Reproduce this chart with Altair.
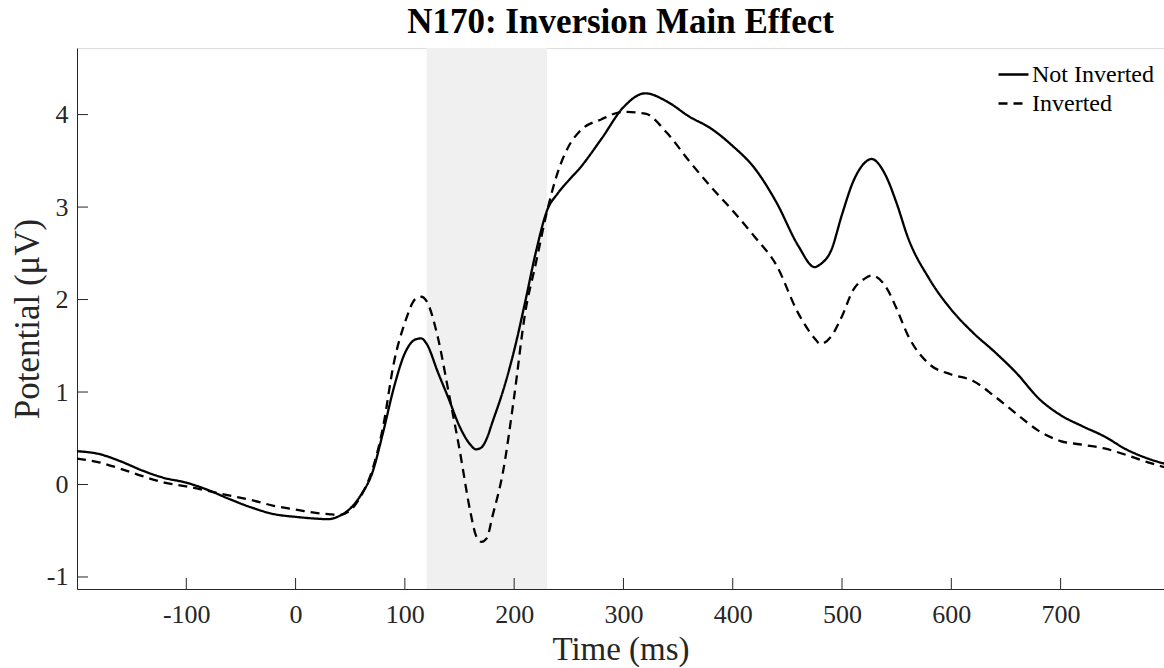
import altair as alt
import pandas as pd

times = [-200, -180, -160, -140, -120, -100, -80, -60, -40, -20, 0, 20, 30, 40, 50, 60, 70, 80, 90,
         100, 110, 115, 120, 130, 140, 150, 160, 165, 170, 175, 180, 190, 200, 210, 220, 230, 240,
         250, 260, 280, 300, 320, 340, 360, 380, 400, 420, 440, 460, 475, 480, 490, 500, 510, 520,
         527, 540, 550, 560, 580, 600, 620, 640, 660, 680, 700, 720, 740, 760, 780, 800]

not_inverted = [0.36, 0.33, 0.25, 0.15, 0.07, 0.02, -0.06, -0.16, -0.25, -0.32, -0.35, -0.37, -0.375,
                -0.34, -0.26, -0.11, 0.12, 0.56, 1.05, 1.42, 1.57, 1.58, 1.52, 1.22, 0.93, 0.63, 0.43,
                0.38, 0.40, 0.50, 0.67, 1.02, 1.45, 1.97, 2.52, 2.96, 3.15, 3.29, 3.42, 3.74, 4.08,
                4.23, 4.14, 3.98, 3.85, 3.66, 3.42, 3.05, 2.58, 2.35, 2.38, 2.53, 2.92, 3.27, 3.47,
                3.52, 3.34, 3.04, 2.68, 2.22, 1.89, 1.64, 1.43, 1.20, 0.93, 0.75, 0.63, 0.52, 0.38,
                0.28, 0.21]

inverted = [0.28, 0.24, 0.17, 0.09, 0.02, -0.02, -0.07, -0.12, -0.17, -0.23, -0.27, -0.31, -0.32,
            -0.33, -0.28, -0.12, 0.15, 0.62, 1.32, 1.75, 2.01, 2.03, 1.98, 1.60, 1.00, 0.38, -0.30,
            -0.55, -0.62, -0.58, -0.35, 0.15, 0.95, 1.85, 2.40, 2.95, 3.38, 3.66, 3.82, 3.95, 4.03,
            4.01, 3.80, 3.50, 3.22, 2.96, 2.68, 2.37, 1.85, 1.58, 1.52, 1.60, 1.82, 2.10, 2.22,
            2.26, 2.14, 1.90, 1.62, 1.30, 1.19, 1.12, 0.95, 0.76, 0.58, 0.47, 0.43, 0.39, 0.32,
            0.24, 0.17]

conditions = ["Not Inverted", "Inverted"]
window_start = [120]
window_end = [230]
x_ticks = [-100, 0, 100, 200, 300, 400, 500, 600, 700]
y_ticks = [-1, 0, 1, 2, 3, 4]

W, H = 1087, 541
X_DOM = [-200, 794.6]
Y_DOM = [-1.13, 4.72]
FONT = "Liberation Serif"
AXC = "#262626"
LABEL_EXPR = "datum.value < 0 ? '-' + abs(datum.value) : '' + datum.value"

rows = []
for t, a, b in zip(times, not_inverted, inverted):
    rows.append({"t": t, "v": a, "cond": conditions[0]})
    rows.append({"t": t, "v": b, "cond": conditions[1]})
df = pd.DataFrame(rows)

xs = alt.Scale(domain=X_DOM, nice=False, zero=False)
ys = alt.Scale(domain=Y_DOM, nice=False, zero=False)

shade = alt.Chart(pd.DataFrame({"s": window_start, "e": window_end})).mark_rect(
    color="#f0f0f0"
).encode(
    x=alt.X("s:Q", scale=xs),
    x2="e:Q",
    y=alt.value(0),
    y2=alt.value(H),
)

lines = alt.Chart(df).mark_line(
    color="black", strokeWidth=2.3, interpolate="monotone", clip=True
).encode(
    x=alt.X("t:Q", scale=xs,
            axis=alt.Axis(values=x_ticks, title="Time (ms)", ticks=False, grid=False,
                          labelExpr=LABEL_EXPR,
                          labelFont=FONT, labelFontSize=26, labelColor=AXC, labelPadding=12,
                          titleFont=FONT, titleFontSize=33, titleFontWeight="normal",
                          titleColor=AXC, titlePadding=6, domainColor=AXC, domainWidth=1,
                          labelFlush=False)),
    y=alt.Y("v:Q", scale=ys,
            axis=alt.Axis(values=y_ticks, title="Potential (μV)", ticks=False, grid=False,
                          labelExpr=LABEL_EXPR,
                          labelFont=FONT, labelFontSize=26, labelColor=AXC, labelPadding=9,
                          titleFont=FONT, titleFontSize=35, titleFontWeight="normal",
                          titleColor=AXC, titleX=-39, titleY=H / 2, titleAngle=-90,
                          titleBaseline="alphabetic", titleAlign="center",
                          domainColor=AXC, domainWidth=1, labelFlush=False)),
    strokeDash=alt.StrokeDash(
        "cond:N",
        scale=alt.Scale(domain=conditions, range=[[1, 0], [9, 6]]),
        legend=alt.Legend(title=None, orient="top-right", symbolType="stroke",
                          symbolStrokeColor="black", symbolStrokeWidth=2.3, symbolSize=900,
                          labelFont=FONT, labelFontSize=24, labelColor="black", labelOffset=2,
                          rowPadding=0, padding=0, offset=10),
    ),
    order="t:Q",
)

xtick = alt.Chart(pd.DataFrame({"t": x_ticks})).mark_rule(color=AXC, strokeWidth=1).encode(
    x=alt.X("t:Q", scale=xs), y=alt.value(H), y2=alt.value(H - 11)
)
ytick = alt.Chart(pd.DataFrame({"v": y_ticks})).mark_rule(color=AXC, strokeWidth=1).encode(
    y=alt.Y("v:Q", scale=ys), x=alt.value(0), x2=alt.value(11)
)

chart = alt.layer(shade, lines, xtick, ytick).properties(
    width=W, height=H,
    title=alt.TitleParams("N170: Inversion Main Effect", font=FONT, fontSize=35,
                          fontWeight="bold", color="black", anchor="middle", offset=8),
    autosize=alt.AutoSizeParams(type="none"),
    padding={"left": 77, "top": 48, "right": 0, "bottom": 79},
).configure_view(stroke=None).configure(background="white")

chart.save("out.html", embed_options={"renderer": "svg", "actions": False})
